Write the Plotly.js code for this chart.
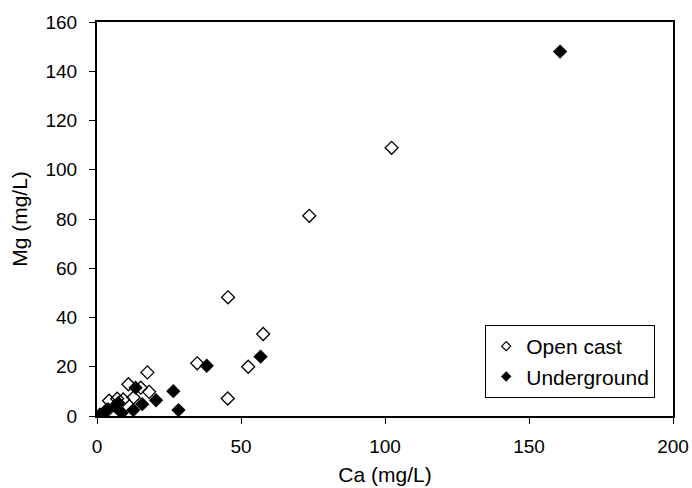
<!DOCTYPE html>
<html>
<head>
<meta charset="utf-8">
<script src="https://cdn.plot.ly/plotly-3.0.1.min.js"></script>
<style>html,body{margin:0;padding:0;background:#fff;}#chart{width:692px;height:488px;}</style>
</head>
<body>
<div id="chart"></div>
<script>
var openCa = [45.5, 57.7, 34.8, 52.5, 45.4, 17.5, 10.9, 15.2, 18.1, 12.7, 4.2, 7.0, 9.1, 3.9, 73.7, 102.3];
var openMg = [48.2, 33.3, 21.4, 20.0, 7.1, 17.7, 12.9, 11.5, 9.8, 7.5, 6.2, 7.0, 6.7, 2.6, 81.3, 108.9];
var underCa = [38.1, 56.8, 26.5, 28.3, 20.5, 15.7, 13.4, 12.6, 8.6, 7.4, 6.2, 3.4, 1.0, 160.8];
var underMg = [20.4, 24.1, 10.1, 2.4, 6.4, 4.8, 11.5, 2.4, 1.3, 5.3, 4.0, 2.6, 0.6, 148.0];
var seriesNames = ['Open cast', 'Underground'];
var xTicks = [0, 50, 100, 150, 200];
var yTicks = [0, 20, 40, 60, 80, 100, 120, 140, 160];

var fam = 'Liberation Sans, Arial, sans-serif';
var tickFont = {family: fam, size: 19, color: '#000'};
var titleFont = {family: fam, size: 21, color: '#000'};

var traces = [
  {x: openCa, y: openMg, name: seriesNames[0], type: 'scatter', mode: 'markers', showlegend: false,
   marker: {symbol: 'diamond-open', size: 10, color: '#000', line: {width: 1.3, color: '#000'}}},
  {x: underCa, y: underMg, name: seriesNames[1], type: 'scatter', mode: 'markers', showlegend: false,
   marker: {symbol: 'diamond', size: 11, color: '#000', line: {width: 0}}},
  {x: [null], y: [null], name: seriesNames[0], type: 'scatter', mode: 'markers',
   marker: {symbol: 'diamond-open', size: 7, color: '#000', line: {width: 1.2, color: '#000'}}},
  {x: [null], y: [null], name: seriesNames[1], type: 'scatter', mode: 'markers',
   marker: {symbol: 'diamond', size: 8, color: '#000', line: {width: 0}}}
];

var layout = {
  width: 692, height: 488,
  margin: {l: 97, r: 19, t: 22, b: 72},
  paper_bgcolor: '#fff', plot_bgcolor: '#fff',
  font: tickFont,
  showlegend: true,
  legend: {x: 0.674, y: 0.231, xanchor: 'left', yanchor: 'top',
           bordercolor: '#000', borderwidth: 1, bgcolor: '#fff',
           font: {family: fam, size: 21, color: '#000'},
           itemwidth: 30, tracegroupgap: 0},
  xaxis: {range: [0, 200], tickvals: xTicks, ticktext: xTicks.map(String),
          showgrid: false, zeroline: false, showline: true, linecolor: '#000', linewidth: 2,
          mirror: true, ticks: 'outside', ticklen: 6, tickcolor: '#000', tickwidth: 1,
          tickfont: tickFont, ticklabelstandoff: 6,
          title: {text: 'Ca (mg/L)', font: titleFont, standoff: 12}},
  yaxis: {range: [0, 160], tickvals: yTicks, ticktext: yTicks.map(String),
          showgrid: false, zeroline: false, showline: true, linecolor: '#000', linewidth: 2,
          mirror: true, ticks: 'outside', ticklen: 6, tickcolor: '#000', tickwidth: 1,
          tickfont: tickFont, ticklabelstandoff: 8,
          title: {text: 'Mg (mg/L)', font: titleFont, standoff: 12}}
};

Plotly.newPlot('chart', traces, layout, {displayModeBar: false, staticPlot: true});
</script>
</body>
</html>
